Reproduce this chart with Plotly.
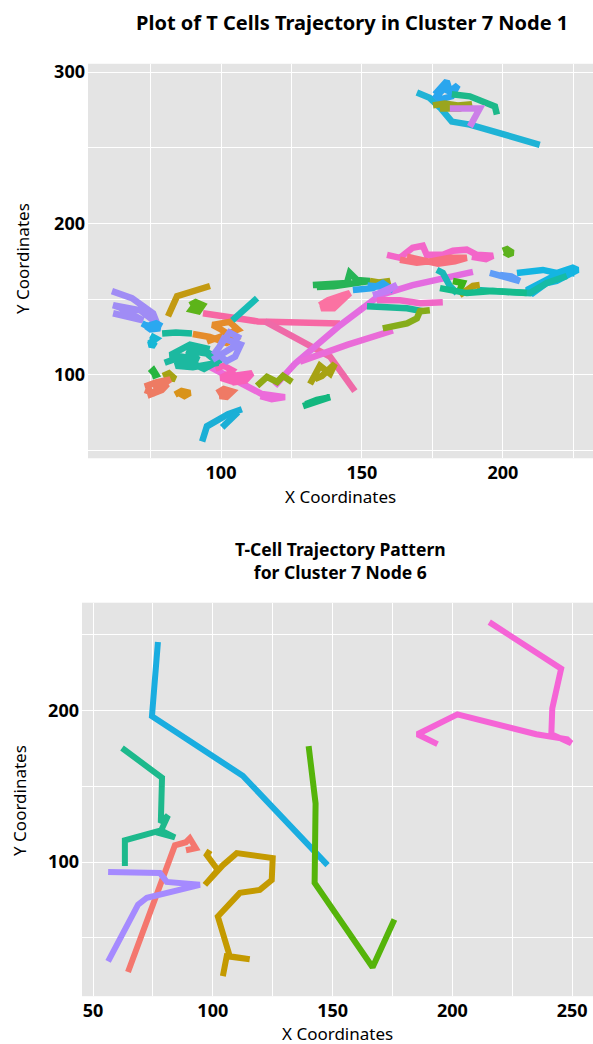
import plotly.graph_objects as go

# ---- Cluster 7, Node 1: one x list, y list and colour per T cell ----
node1_x = [
    [169.5, 174, 178, 181.9, 188.3, 213.1],
    [175.9, 180.1, 181.2, 184.0, 181.9, 177.7, 176.5, 179, 182.5],
    [181.9, 188.3, 197.2, 197.9],
    [175.2, 179.4, 184.0, 189.0, 184.7, 177.7],
    [181.2, 191.8, 188.3],
    [61.3, 68.4, 75.9, 77.3, 71.3, 61.7, 64, 72.3, 61.7],
    [72, 74, 76, 78.4, 75, 73.5, 77, 79],
    [75, 77, 75.5, 76.6, 74.5, 76.5],
    [81.2, 84.4, 96.1],
    [89, 91, 93.5, 92, 89.5, 90.5, 92.5],
    [93.6, 113.1, 142.2],
    [115.6, 134.0, 138.7, 147.5],
    [119.1, 126.2, 142.2, 156.4, 168, 178.7, 189.4],
    [128, 145, 161],
    [155.3, 163.5, 170.6, 178.7],
    [112.8, 116.3, 119.9, 122, 125.2],
    [79.4, 81.5, 83.7, 81],
    [131.6, 135.1, 138.7, 140.4, 135.8, 133.3],
    [129.1, 132, 135, 138.7, 134, 130],
    [95.4, 106.7, 114.5, 122.7, 118, 114],
    [98, 101, 104, 102, 106, 104, 108, 107, 111, 109, 103, 100, 105],
    [73, 76, 78, 80, 82, 77, 74, 75, 79, 81, 76],
    [98.6, 101, 104, 102, 99.5, 103],
    [83.7, 86, 89, 87, 85],
    [90, 96, 102, 105, 100, 97, 103, 106, 101, 95],
    [79.1, 84, 89.7],
    [80, 86, 92, 88, 95, 99, 90, 84, 92, 97, 100, 94, 87, 82, 89, 96],
    [104, 108, 112.8],
    [97, 101, 104, 106, 103, 100, 98, 102, 105, 107, 101, 99],
    [93.3, 95, 102.5, 107.4],
    [100.4, 106],
    [74.8, 76, 77, 75.5],
    [132.6, 138, 144.7, 145.7, 148.2, 152.8, 147, 140, 134],
    [152.8, 156, 160, 157],
    [135, 138, 143.3, 145.7, 140, 135.5, 138, 142],
    [146.8, 150, 153.9, 157.4, 161, 158, 152],
    [151.8, 158, 166, 171.6],
    [153.9, 158.9, 162.4, 160, 156],
    [157.4, 162.4, 166, 169.5, 170.6, 174.1],
    [158.9, 163.5, 168, 171.6, 173, 178.7, 182.3, 187.2, 190.8, 196.5, 194, 189],
    [163.5, 169.5, 175.2, 181.2, 187.2, 183, 177, 171, 166],
    [200, 201.5, 203.5, 202, 200.5],
    [205, 214.2, 219.1, 224.8, 226.6, 222.7, 219.1, 215.6, 210.6, 208.5,
     215.6, 221, 225.5],
    [190.8, 198.9, 209.6, 215.6, 222.7],
    [195.4, 198.9, 202.5, 206, 203, 199],
    [176.6, 178.7, 181.2, 183.7],
    [182.3, 185.8, 184.7],
    [184.7, 189.4, 191.8],
    [177.7, 187.2, 196.5, 208.5],
]
node1_y = [
    [286.5, 283, 276, 267.3, 265.3, 252],
    [285.3, 294.0, 287.3, 291.3, 284.0, 282.0, 284, 289, 286],
    [285.3, 284.0, 277.3, 272.0],
    [278, 279.3, 278, 278.7, 276, 276],
    [276, 276, 264],
    [155.3, 150.7, 140.7, 134, 142.7, 146, 144.5, 136, 140.7],
    [134, 132, 133, 130.7, 130, 132, 134, 132],
    [126, 124, 122, 119.3, 120, 123],
    [138.7, 152, 158.7],
    [146, 148, 146, 142, 143, 145.5, 147],
    [140.7, 135.3, 134.0],
    [135.3, 117.3, 112.0, 89.3],
    [92.7, 107.3, 132.7, 152.7, 159.3, 164, 168],
    [108.7, 120, 129.3],
    [149.3, 149.3, 147.3, 148],
    [92.7, 98.7, 95.3, 99.3, 95.3],
    [99.3, 101, 97.3, 98],
    [94, 106, 100.7, 107.3, 99.3, 97.3],
    [79.3, 81, 83, 85.3, 83.5, 80.5],
    [106, 95.3, 87.3, 85.3, 84, 86],
    [104, 106, 103, 99, 98, 95, 96, 100, 101, 97, 101, 98, 95],
    [90, 88, 92, 95, 97, 95, 93, 87, 90, 94, 91],
    [88, 90.7, 89, 85.5, 86, 88],
    [87, 89.3, 88, 86, 88],
    [127, 125, 121, 124, 130, 133, 135, 130, 126, 122],
    [127.3, 128, 127.3],
    [108, 112, 110, 116, 114, 108, 105, 106, 118, 113, 110, 104, 110, 113, 120, 117],
    [136, 143, 150.7],
    [110, 114, 118, 125, 128, 120, 115, 109, 112, 120, 124, 117],
    [56, 66, 74, 77.3],
    [65.3, 75.3],
    [101, 103, 100, 99],
    [159.3, 160.3, 160.7, 167.3, 162.7, 162, 160, 158.5, 158],
    [162, 161, 162, 160],
    [146, 149.3, 152.7, 154, 144, 144, 147, 150],
    [156, 157, 157.3, 160.7, 156, 158, 159],
    [145.3, 145, 144, 142],
    [152.7, 155.3, 159.3, 157, 154],
    [130.7, 132.7, 134, 137.3, 142, 142.7],
    [179.3, 177.3, 184, 185.3, 179.3, 179.3, 182, 182.7, 179.3, 178.7, 176.5, 178],
    [176, 174, 175.3, 177.3, 177.3, 175, 173.5, 176.5, 178],
    [182, 183, 180.7, 179.5, 181],
    [167.3, 169.3, 167.3, 170.7, 169.3, 165.3, 162, 160.7, 154, 156,
     162.7, 168, 167],
    [156, 155.3, 154, 160.7, 165.3],
    [167.3, 165.3, 164, 162, 165, 166],
    [169.3, 167.3, 158.7, 154],
    [162, 160.7, 156],
    [152.7, 158.7, 159.3],
    [157.3, 154, 155.3, 154],
]
node1_colors = [
    "#1FB3D6", "#2AA6EE", "#1DB98A", "#9AA51E", "#CC7FE8",
    "#A08CF5", "#2AA8F0", "#16B7D6", "#C39A12", "#5DB41A",
    "#F767A4", "#EF6AA8", "#E46CE0", "#EA6CD8", "#F067C6",
    "#8FAA13", "#A6A313", "#A7A213", "#13B77F", "#EC6BDA",
    "#F862B8", "#EE7B63", "#EF7A65", "#D9931A", "#E58C2B",
    "#18B99A", "#1CB9A0", "#17BCB5", "#968EF8", "#1BAFD6",
    "#1BAFD6", "#28B540", "#27B456", "#A3A515", "#FB72A2",
    "#2CA7EE", "#1BB896", "#C27DF5", "#86AD1A", "#F366C9",
    "#F7717F", "#5DB21E", "#14B5E2", "#16BBA6", "#5F9DF7",
    "#19B8B8", "#3DB41A", "#B89E10", "#15BC8C",
]

# ---- Cluster 7, Node 6 ----
node6_x = [
    [77.1, 74.6, 112.5, 147.9],
    [62.1, 78.8, 78.3, 81.3, 77.9, 84.2, 78.3, 63.3, 63.3],
    [64.6, 83.3, 84.2, 88.8, 90.4, 92.9, 88.8],
    [56.3, 77.9, 80.8, 94.6, 72.5, 68.8, 56.3],
    [104.2, 105.8, 115.4, 107.1, 102.1, 111.3, 119.6, 124.6, 125.0,
     110.0, 104.2, 96.7, 102.1, 97.5, 98.8],
    [140.0, 142.9, 142.5, 166.7, 175.8],
    [215.4, 245.4, 241.7, 241.3, 249.6, 247.9, 235.0, 202.1, 185.4, 193.8],
]
node6_y = [
    [245.1, 196.1, 156.9, 98.0],
    [175.2, 155.6, 126.1, 130.7, 119.0, 116.3, 120.9, 114.4, 97.4],
    [27.5, 107.8, 111.1, 113.1, 115.7, 109.2, 107.8],
    [93.5, 92.8, 86.9, 85.0, 76.5, 71.9, 34.6],
    [24.8, 37.9, 35.9, 37.9, 64.1, 79.7, 81.7, 88.2, 102.6,
     105.9, 98.0, 85.0, 94.8, 104.6, 107.8],
    [176.5, 138.6, 86.3, 30.7, 62.1],
    [258.2, 227.5, 201.3, 184.3, 178.4, 181.0, 184.3, 197.4, 184.3, 177.8],
]
node6_colors = ["#1AADE0", "#1DB98C", "#F4776E", "#A58AFF",
                "#C49A00", "#55B40A", "#F564D6"]

fig = go.Figure()

for xs, ys, c in zip(node1_x, node1_y, node1_colors):
    fig.add_trace(go.Scatter(x=xs, y=ys, mode="lines", xaxis="x", yaxis="y",
                             line=dict(color=c, width=6.5), showlegend=False,
                             hoverinfo="skip"))

for xs, ys, c in zip(node6_x, node6_y, node6_colors):
    fig.add_trace(go.Scatter(x=xs, y=ys, mode="lines", xaxis="x2", yaxis="y2",
                             line=dict(color=c, width=6), showlegend=False,
                             hoverinfo="skip"))

W, H = 593, 1044
tick_font = dict(family="Noto Sans", size=18, color="black", weight="bold")
panel_bg = "#E4E4E4"


def axis(domain, rng, major, minor, anchor):
    return dict(
        domain=domain, range=rng, anchor=anchor,
        tickvals=major, ticktext=[str(v) for v in major],
        showgrid=True, gridcolor="white", gridwidth=1.3,
        minor=dict(tickvals=minor, showgrid=True, gridcolor="white",
                   gridwidth=0.6, ticks=""),
        zeroline=False, showline=False, ticks="",
        tickfont=tick_font, ticklabelstandoff=2, fixedrange=True,
    )


fig.update_layout(
    width=W, height=H,
    margin=dict(l=0, r=0, t=0, b=0),
    paper_bgcolor="white",
    plot_bgcolor=panel_bg,
    xaxis=axis([88 / W, 1], [52.8, 232], [100, 150, 200],
               [75, 125, 175, 225], "y"),
    yaxis=axis([1 - 456 / H, 1 - 60 / H], [44.9, 305.5], [100, 200, 300],
               [50, 150, 250], "x"),
    xaxis2=axis([82 / W, 1], [45.4, 258.7], [50, 100, 150, 200, 250],
                [75, 125, 175, 225], "y2"),
    yaxis2=axis([1 - 996 / H, 1 - 601 / H], [11.6, 271], [100, 200],
                [50, 150, 250], "x2"),
)

top_title_font = dict(family="Noto Sans", size=20, color="black", weight="bold")
bottom_title_font = dict(family="Noto Sans", size=17.5, color="black",
                         weight="bold")
label_font = dict(family="Noto Sans", size=17, color="black")


def px(x, y):
    return dict(x=x / W, y=1 - y / H, xref="paper", yref="paper",
                showarrow=False, xanchor="center", yanchor="middle")


fig.add_annotation(text="Plot of T Cells Trajectory in Cluster 7 Node 1",
                   font=top_title_font, **px(352, 19))
fig.add_annotation(text="X Coordinates", font=label_font, **px(340, 494))
fig.add_annotation(text="Y Coordinates", font=label_font, textangle=-90,
                   **px(22, 256))

fig.add_annotation(text="T-Cell Trajectory Pattern<br>for Cluster 7 Node 6",
                   font=bottom_title_font, **px(340, 559))
fig.add_annotation(text="X Coordinates", font=label_font, **px(337, 1033))
fig.add_annotation(text="Y Coordinates", font=label_font, textangle=-90,
                   **px(20, 800))

fig.write_html("out.html")
